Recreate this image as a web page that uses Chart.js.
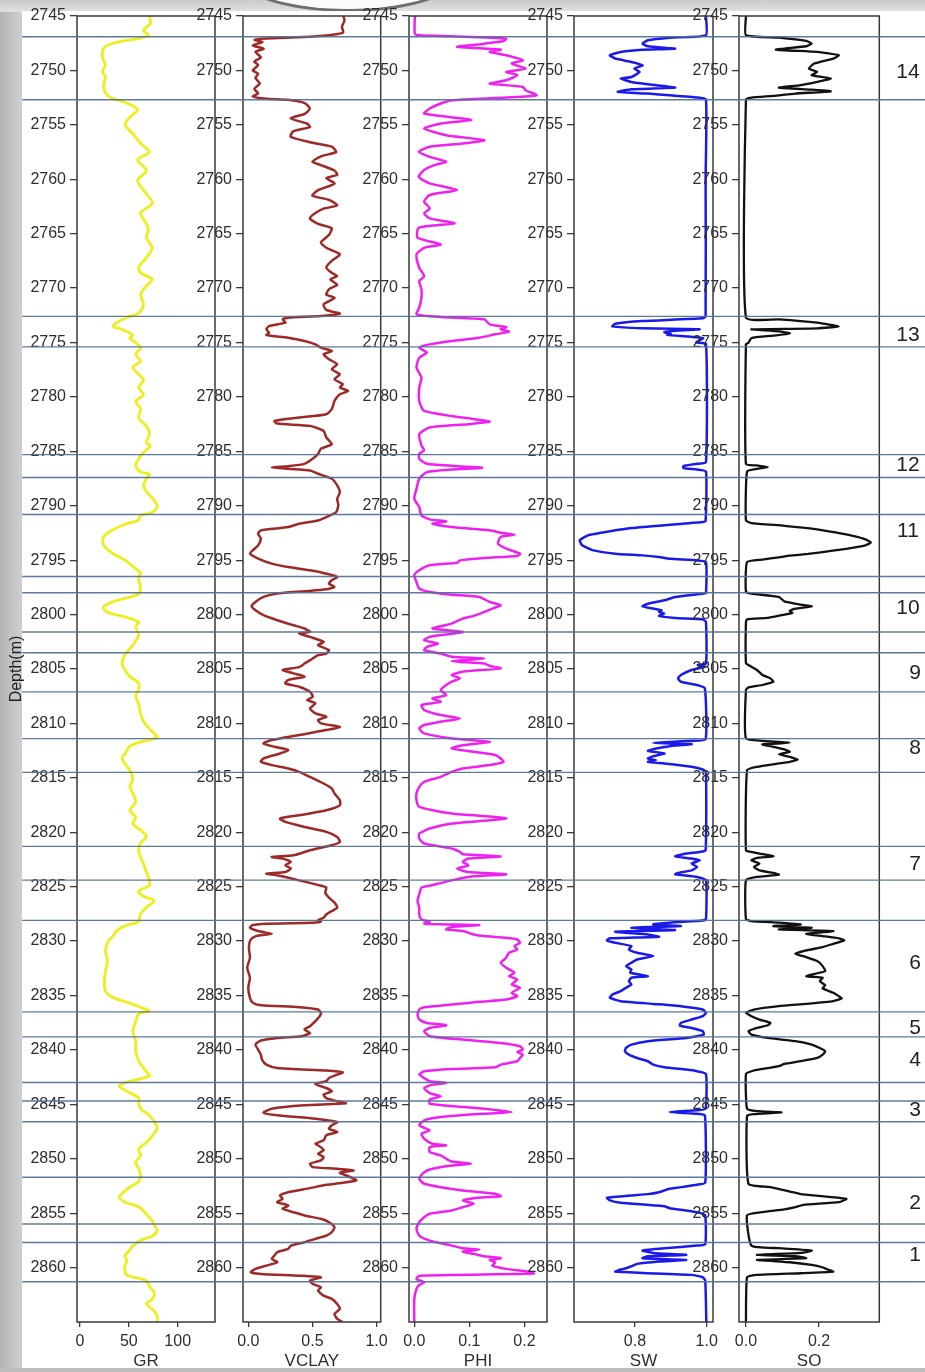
<!DOCTYPE html>
<html>
<head>
<meta charset="utf-8">
<title>Well log – zones 1–14</title>
<script src="https://cdn.jsdelivr.net/npm/chart.js@4.4.1/dist/chart.umd.min.js"></script>
<style>
  html, body { margin: 0; padding: 0; }
  body {
    width: 925px; height: 1372px; position: relative; overflow: hidden;
    background: linear-gradient(to right, #b4b4b4 0px, #cfcfcf 22px, #d8d8d8 100%);
  }
  #topShade {
    position: absolute; left: 0; top: 0; width: 925px; height: 12px;
    background: linear-gradient(to bottom, #c9c9c9, #e2e2e2);
  }
  #dome {
    position: absolute; left: 226px; top: -34px; width: 244px; height: 46px;
    background: #fbfbfb; border: 3px solid #6f6f6f; border-radius: 0 0 50% 50% / 0 0 100% 100%;
    box-sizing: border-box;
  }
  #sheet { position: absolute; left: 22px; top: 11px; width: 903px; height: 1357px; background: #fff; }
  #bottomBand { position: absolute; left: 0; top: 1368px; width: 925px; height: 4px; background: #bdbdbd; z-index: 20; }
  canvas { position: absolute; top: 0; z-index: 5; }
  canvas.zones { z-index: 6; }
</style>
</head>
<body>
<div id="topShade"></div>
<div id="dome"></div>
<div id="sheet"></div>
<div id="bottomBand"></div>

<script>
// ---------------------------------------------------------------
// Depth axis and zonation
// ---------------------------------------------------------------
const depthMin = 2745;
const depthMax = 2865;
const depthTicks = [2745, 2750, 2755, 2760, 2765, 2770, 2775, 2780, 2785, 2790, 2795, 2800,
                    2805, 2810, 2815, 2820, 2825, 2830, 2835, 2840, 2845, 2850, 2855, 2860];

const zoneNames = ['14', '13', '12', '11', '10', '9', '8', '7', '6', '5', '4', '3', '2', '1'];
const zoneTop   = [2746.9, 2772.6, 2785.3, 2790.8, 2798.0, 2803.5, 2811.4, 2821.3, 2828.1, 2836.5, 2838.8, 2844.7, 2851.7, 2857.7];
const zoneBase  = [2752.7, 2775.4, 2787.4, 2796.5, 2801.6, 2807.1, 2814.5, 2824.4, 2836.5, 2838.8, 2843.0, 2846.6, 2856.0, 2861.3];
const zoneLabelDepth = [2750.2, 2774.3, 2786.3, 2792.3, 2799.4, 2805.4, 2812.3, 2822.9, 2832.0, 2838.0, 2840.9, 2845.55, 2854.1, 2858.9];

// ---------------------------------------------------------------
// Curves: [depth (m), value]
// ---------------------------------------------------------------
const GR = [
  [2745.0,71],[2745.7,72],[2746.3,65],[2746.8,70],[2747.1,57],[2747.5,34],[2748.0,24],[2748.8,23],[2749.5,26],[2750.1,23],
  [2750.6,26],[2751.5,24],[2752.3,28],[2752.6,34],[2753.0,48],[2753.6,59],[2754.3,51],[2755.0,46],[2755.8,54],[2756.7,62],
  [2757.5,71],[2758.2,59],[2759.2,68],[2760.1,59],[2761.0,65],[2762.2,74],[2763.1,62],[2764.1,68],[2764.6,70],[2765.4,68],
  [2766.3,74],[2767.2,68],[2768.1,60],[2768.6,62],[2769.2,74],[2769.8,68],[2770.6,62],[2771.5,65],[2772.3,60],[2772.7,48],
  [2773.2,37],[2773.5,34],[2773.8,43],[2774.3,54],[2774.6,51],[2775.0,57],[2775.5,62],[2776.1,57],[2776.7,62],[2777.3,54],
  [2777.9,60],[2778.5,65],[2779.1,60],[2779.8,65],[2780.4,57],[2781.1,62],[2781.9,60],[2782.7,68],[2783.4,71],[2784.2,68],
  [2784.5,72],[2785.1,65],[2785.7,60],[2786.3,57],[2786.9,62],[2787.1,71],[2787.5,68],[2788.1,65],[2788.7,68],[2789.5,76],
  [2790.1,79],[2790.6,74],[2790.9,62],[2791.3,60],[2791.7,46],[2792.3,32],[2792.9,24],[2793.6,24],[2794.3,32],[2795.0,46],
  [2795.8,57],[2796.2,62],[2796.7,60],[2797.5,62],[2798.1,60],[2798.4,51],[2798.8,34],[2799.3,24],[2799.8,28],[2800.2,46],
  [2800.7,60],[2801.1,57],[2801.9,60],[2802.8,54],[2803.7,46],[2804.5,43],[2805.1,46],[2805.7,51],[2806.3,60],[2806.9,60],
  [2807.5,57],[2808.2,60],[2809.1,62],[2809.8,65],[2810.5,71],[2810.9,76],[2811.3,79],[2811.7,62],[2812.1,51],[2812.8,46],
  [2813.2,43],[2813.7,46],[2814.3,51],[2815.1,54],[2815.8,51],[2816.4,54],[2817.2,57],[2818.0,51],[2818.6,57],[2819.2,54],
  [2819.8,62],[2820.4,68],[2821.0,62],[2821.7,60],[2822.3,62],[2822.9,65],[2823.7,68],[2824.4,71],[2824.9,71],[2825.4,60],
  [2825.9,65],[2826.3,76],[2826.9,68],[2827.5,62],[2828.2,60],[2828.6,46],[2829.1,37],[2829.5,34],[2830.0,29],[2830.9,26],
  [2831.8,28],[2832.8,26],[2833.7,25],[2834.6,26],[2835.2,34],[2835.7,51],[2836.1,62],[2836.4,71],[2836.7,60],[2837.4,57],
  [2838.3,54],[2839.2,57],[2840.1,57],[2841.0,60],[2842.0,68],[2842.4,71],[2842.9,51],[2843.3,40],[2843.8,48],[2844.4,60],
  [2844.9,60],[2845.4,62],[2846.0,71],[2846.6,76],[2847.2,79],[2847.9,74],[2848.5,68],[2849.1,60],[2849.7,62],[2850.3,57],
  [2850.9,60],[2851.5,62],[2852.1,60],[2852.6,51],[2853.2,43],[2853.5,40],[2854.0,46],[2854.4,60],[2855.1,68],[2855.7,74],
  [2856.1,76],[2856.6,79],[2857.1,74],[2857.5,62],[2858.0,54],[2858.4,51],[2858.9,46],[2859.4,48],[2859.8,46],[2860.3,46],
  [2860.7,48],[2861.2,68],[2861.7,71],[2862.3,76],[2862.9,74],[2863.3,68],[2864.0,76],[2864.4,79],[2865.0,79]
];

const VCLAY = [
  [2745.0,0.74],[2745.4,0.75],[2746.0,0.73],[2746.5,0.74],[2746.7,0.67],[2746.9,0.48],[2747.1,0.10],[2747.2,0.05],[2747.4,0.11],[2747.7,0.035],
  [2748.0,0.12],[2748.3,0.056],[2748.8,0.098],[2749.2,0.047],[2749.5,0.077],[2750.0,0.035],[2750.3,0.077],[2750.7,0.056],[2751.2,0.09],[2751.7,0.047],
  [2752.1,0.077],[2752.4,0.035],[2752.6,0.14],[2752.7,0.31],[2753.0,0.44],[2753.5,0.48],[2754.0,0.44],[2754.4,0.33],[2754.9,0.46],[2755.2,0.48],
  [2755.6,0.35],[2756.1,0.33],[2756.6,0.48],[2757.0,0.65],[2757.5,0.685],[2757.9,0.566],[2758.4,0.50],[2758.7,0.566],[2759.2,0.672],[2759.6,0.693],
  [2759.9,0.608],[2760.4,0.672],[2761.0,0.545],[2761.5,0.50],[2761.9,0.63],[2762.4,0.693],[2762.7,0.587],[2763.1,0.523],[2763.6,0.48],[2764.1,0.545],
  [2764.5,0.65],[2765.1,0.63],[2765.8,0.566],[2766.3,0.608],[2766.9,0.714],[2767.5,0.65],[2768.1,0.608],[2768.6,0.65],[2768.9,0.693],[2769.2,0.64],
  [2769.7,0.693],[2770.1,0.63],[2770.6,0.608],[2770.9,0.672],[2771.5,0.587],[2772.0,0.608],[2772.35,0.714],[2772.57,0.566],[2772.72,0.31],[2772.87,0.268],
  [2773.18,0.289],[2773.49,0.162],[2773.79,0.141],[2774.1,0.162],[2774.31,0.141],[2774.56,0.31],[2774.86,0.438],[2775.17,0.523],[2775.47,0.566],[2775.78,0.651],
  [2776.09,0.587],[2776.54,0.629],[2777.0,0.693],[2777.46,0.651],[2777.92,0.714],[2778.38,0.672],[2778.84,0.736],[2779.14,0.714],[2779.45,0.778],[2779.76,0.714],
  [2780.37,0.672],[2781.13,0.651],[2781.59,0.608],[2781.9,0.396],[2782.2,0.204],[2782.45,0.226],[2782.66,0.481],[2783.12,0.587],[2783.73,0.608],[2784.34,0.651],
  [2784.77,0.566],[2785.23,0.544],[2785.69,0.502],[2786.15,0.438],[2786.36,0.311],[2786.48,0.183],[2786.61,0.311],[2786.76,0.481],[2787.06,0.544],[2787.52,0.651],
  [2788.13,0.693],[2788.75,0.714],[2789.36,0.693],[2789.97,0.702],[2790.58,0.685],[2791.04,0.608],[2791.35,0.544],[2791.65,0.396],[2791.96,0.311],[2792.26,0.098],
  [2792.57,0.077],[2793.03,0.098],[2793.64,0.077],[2794.1,0.035],[2794.4,0.013],[2794.86,0.077],[2795.32,0.183],[2795.63,0.311],[2795.93,0.481],[2796.24,0.608],
  [2796.54,0.693],[2796.85,0.651],[2797.16,0.629],[2797.46,0.672],[2797.68,0.608],[2797.86,0.438],[2798.07,0.226],[2798.38,0.119],[2798.84,0.056],[2799.24,0.026],
  [2799.6,0.056],[2800.06,0.119],[2800.52,0.226],[2800.98,0.353],[2801.28,0.438],[2801.59,0.481],[2801.74,0.396],[2802.05,0.481],[2802.51,0.587],[2802.81,0.544],
  [2803.27,0.629],[2803.58,0.608],[2803.73,0.544],[2804.04,0.502],[2804.5,0.438],[2804.83,0.396],[2805.09,0.268],[2805.4,0.353],[2805.71,0.438],[2806.01,0.311],
  [2806.32,0.289],[2806.63,0.396],[2807.09,0.481],[2807.55,0.502],[2807.85,0.459],[2808.16,0.523],[2808.62,0.481],[2809.08,0.523],[2809.39,0.608],[2809.69,0.544],
  [2810.0,0.566],[2810.31,0.714],[2810.61,0.608],[2811.07,0.396],[2811.53,0.183],[2811.84,0.119],[2812.15,0.204],[2812.45,0.311],[2812.76,0.247],[2813.22,0.119],
  [2813.53,0.098],[2813.83,0.183],[2814.14,0.311],[2814.45,0.396],[2814.91,0.481],[2815.52,0.587],[2815.98,0.651],[2816.44,0.672],[2817.06,0.714],[2817.52,0.714],
  [2817.98,0.608],[2818.44,0.396],[2818.74,0.247],[2819.05,0.289],[2819.51,0.438],[2819.97,0.608],[2820.43,0.693],[2820.89,0.714],[2821.2,0.651],[2821.66,0.481],
  [2822.12,0.353],[2822.27,0.183],[2822.42,0.268],[2822.73,0.332],[2823.04,0.289],[2823.34,0.332],[2823.65,0.289],[2823.8,0.141],[2823.96,0.226],[2824.42,0.396],
  [2824.91,0.566],[2825.09,0.608],[2825.55,0.60],[2826.01,0.629],[2826.47,0.672],[2826.93,0.693],[2827.24,0.651],[2827.55,0.608],[2827.85,0.587],[2828.1,0.544],
  [2828.22,0.566],[2828.31,0.502],[2828.4,0.141],[2828.53,0.035],[2828.77,0.013],[2829.08,0.077],[2829.33,0.183],[2829.48,0.077],[2829.69,0.035],[2830.0,0.013],
  [2830.61,0.005],[2831.53,0.013],[2832.45,-0.008],[2833.37,0.013],[2834.29,0.0],[2835.21,0.013],[2835.67,0.035],[2835.89,0.098],[2836.07,0.396],[2836.29,0.544],
  [2836.6,0.566],[2836.9,0.557],[2837.36,0.523],[2837.82,0.481],[2838.13,0.438],[2838.44,0.481],[2838.74,0.417],[2838.9,0.226],[2839.14,0.098],[2839.51,0.056],
  [2839.97,0.077],[2840.43,0.098],[2840.89,0.107],[2841.35,0.141],[2841.66,0.226],[2841.9,0.608],[2842.06,0.736],[2842.27,0.693],[2842.58,0.629],[2842.88,0.608],
  [2843.1,0.523],[2843.25,0.544],[2843.5,0.608],[2843.8,0.651],[2844.11,0.587],[2844.42,0.608],[2844.72,0.693],[2844.91,0.76],[2845.09,0.438],[2845.4,0.183],
  [2845.77,0.119],[2846.01,0.226],[2846.32,0.523],[2846.63,0.693],[2846.93,0.651],[2847.24,0.629],[2847.55,0.693],[2847.85,0.608],[2848.31,0.587],[2848.62,0.523],
  [2848.93,0.566],[2849.23,0.587],[2849.54,0.544],[2849.85,0.587],[2850.15,0.566],[2850.46,0.481],[2850.77,0.502],[2850.92,0.693],[2851.07,0.821],[2851.29,0.714],
  [2851.6,0.778],[2851.99,0.842],[2852.21,0.736],[2852.39,0.608],[2852.7,0.481],[2853.07,0.311],[2853.37,0.247],[2853.68,0.268],[2853.99,0.226],[2854.29,0.311],
  [2854.6,0.268],[2854.91,0.353],[2855.21,0.438],[2855.52,0.566],[2855.83,0.629],[2856.29,0.672],[2856.75,0.651],[2857.06,0.608],[2857.36,0.523],[2857.67,0.438],
  [2857.98,0.332],[2858.28,0.311],[2858.59,0.226],[2858.9,0.204],[2859.2,0.183],[2859.51,0.226],[2859.82,0.141],[2860.12,0.056],[2860.43,0.02],[2860.58,0.098],
  [2860.74,0.396],[2860.89,0.566],[2861.2,0.481],[2861.5,0.502],[2861.81,0.566],[2862.12,0.544],[2862.58,0.587],[2862.88,0.651],[2863.34,0.693],[2863.8,0.714],
  [2864.26,0.672],[2864.72,0.693],[2865.0,0.736]
];

const PHI = [
  [2745.0,0.001],[2746.62,0.001],[2746.77,0.01],[2746.87,0.068],[2747.08,0.167],[2747.29,0.162],[2747.54,0.127],[2747.84,0.078],[2748.09,0.157],[2748.3,0.137],
  [2748.61,0.167],[2749.07,0.197],[2749.37,0.177],[2749.83,0.202],[2750.14,0.167],[2750.44,0.187],[2750.9,0.167],[2751.21,0.137],[2751.51,0.197],[2751.82,0.202],
  [2752.28,0.222],[2752.49,0.167],[2752.74,0.068],[2753.04,0.048],[2753.5,0.028],[2753.96,0.018],[2754.42,0.088],[2754.57,0.103],[2754.88,0.048],[2755.34,0.018],
  [2755.95,0.058],[2756.41,0.127],[2756.71,0.088],[2757.02,0.028],[2757.48,0.008],[2757.94,0.028],[2758.39,0.058],[2758.7,0.036],[2759.16,0.018],[2759.77,0.008],
  [2760.38,0.028],[2760.99,0.078],[2761.45,0.028],[2762.06,0.018],[2762.68,0.028],[2763.13,0.018],[2763.59,0.028],[2764.05,0.073],[2764.46,0.008],[2765.38,0.006],
  [2766.0,0.048],[2766.3,0.018],[2766.91,0.004],[2768.13,0.009],[2768.9,0.018],[2769.36,0.009],[2770.12,0.013],[2770.89,0.013],[2771.8,0.009],[2772.42,0.004],
  [2772.66,0.048],[2772.87,0.127],[2773.33,0.137],[2773.58,0.167],[2773.79,0.157],[2774.0,0.172],[2774.25,0.147],[2774.56,0.118],[2774.86,0.068],[2775.17,0.028],
  [2775.47,0.009],[2775.93,0.023],[2776.39,0.009],[2777.31,0.004],[2778.23,0.013],[2779.14,0.009],[2780.37,0.009],[2781.28,0.018],[2781.9,0.088],[2782.26,0.137],
  [2782.51,0.098],[2782.81,0.028],[2783.43,0.009],[2784.46,0.013],[2784.92,0.018],[2785.23,0.009],[2785.69,0.009],[2786.15,0.023],[2786.39,0.088],[2786.51,0.123],
  [2786.67,0.068],[2786.91,0.023],[2787.52,0.009],[2788.44,0.004],[2789.36,0.0],[2790.12,0.009],[2790.89,0.013],[2791.25,0.028],[2791.44,0.058],[2791.65,0.033],
  [2791.96,0.068],[2792.26,0.137],[2792.48,0.157],[2792.66,0.182],[2792.87,0.157],[2793.49,0.152],[2793.94,0.167],[2794.4,0.192],[2794.62,0.187],[2794.8,0.127],
  [2795.02,0.083],[2795.23,0.078],[2795.47,0.028],[2795.93,0.009],[2796.39,0.0],[2797.0,0.004],[2797.61,0.009],[2797.92,0.028],[2798.17,0.068],[2798.38,0.118],
  [2798.84,0.137],[2799.14,0.157],[2799.45,0.142],[2799.76,0.127],[2800.12,0.108],[2800.37,0.088],[2800.83,0.068],[2801.28,0.033],[2801.59,0.088],[2801.83,0.058],
  [2802.05,0.028],[2802.35,0.018],[2802.66,0.043],[2802.97,0.023],[2803.27,0.018],[2803.58,0.048],[2803.88,0.068],[2804.04,0.127],[2804.28,0.068],[2804.5,0.127],
  [2804.71,0.137],[2804.94,0.157],[2805.25,0.088],[2805.55,0.068],[2805.86,0.083],[2806.17,0.068],[2806.47,0.058],[2806.93,0.048],[2807.39,0.058],[2807.7,0.033],
  [2808.01,0.048],[2808.31,0.013],[2808.77,0.018],[2809.23,0.048],[2809.54,0.083],[2809.85,0.048],[2810.15,0.018],[2810.46,0.009],[2810.92,0.018],[2811.38,0.068],
  [2811.69,0.137],[2812.0,0.088],[2812.3,0.068],[2812.61,0.108],[2812.91,0.147],[2813.22,0.157],[2813.53,0.162],[2813.83,0.137],[2814.14,0.088],[2814.45,0.068],
  [2814.91,0.048],[2815.37,0.018],[2815.83,0.009],[2816.44,0.004],[2817.06,0.004],[2817.67,0.009],[2818.28,0.068],[2818.59,0.147],[2818.74,0.167],[2818.9,0.137],
  [2819.2,0.068],[2819.66,0.028],[2820.12,0.009],[2820.58,0.009],[2821.04,0.018],[2821.5,0.068],[2821.81,0.083],[2822.02,0.088],[2822.21,0.157],[2822.42,0.098],
  [2822.73,0.088],[2823.04,0.098],[2823.34,0.078],[2823.65,0.098],[2823.87,0.167],[2824.05,0.108],[2824.42,0.068],[2824.91,0.028],[2825.09,0.013],[2825.71,0.009],
  [2826.32,0.006],[2826.93,0.009],[2827.55,0.009],[2828.01,0.013],[2828.22,0.028],[2828.4,0.018],[2828.53,0.118],[2828.71,0.068],[2828.93,0.058],[2829.08,0.088],
  [2829.39,0.108],[2829.54,0.127],[2829.69,0.167],[2829.85,0.187],[2830.15,0.192],[2830.46,0.182],[2830.77,0.187],[2831.07,0.172],[2831.53,0.167],[2831.99,0.157],
  [2832.45,0.167],[2832.91,0.182],[2833.22,0.172],[2833.53,0.187],[2833.99,0.177],[2834.29,0.192],[2834.75,0.177],[2835.06,0.187],[2835.37,0.167],[2835.58,0.118],
  [2835.83,0.068],[2836.07,0.018],[2836.29,0.009],[2836.75,0.006],[2837.21,0.009],[2837.52,0.023],[2837.73,0.058],[2837.98,0.028],[2838.28,0.018],[2838.74,0.028],
  [2839.05,0.088],[2839.36,0.157],[2839.66,0.192],[2839.97,0.197],[2840.18,0.187],[2840.43,0.197],[2840.74,0.192],[2841.04,0.187],[2841.35,0.157],[2841.6,0.147],
  [2841.75,0.068],[2841.96,0.018],[2842.27,0.009],[2842.58,0.018],[2842.88,0.028],[2843.04,0.058],[2843.19,0.033],[2843.5,0.018],[2843.96,0.028],[2844.26,0.048],
  [2844.57,0.028],[2844.94,0.028],[2845.4,0.127],[2845.71,0.177],[2845.86,0.127],[2846.17,0.048],[2846.47,0.018],[2846.93,0.009],[2847.39,0.028],[2847.7,0.013],
  [2848.16,0.018],[2848.62,0.033],[2848.77,0.058],[2848.93,0.028],[2849.39,0.028],[2849.69,0.048],[2850.0,0.058],[2850.25,0.068],[2850.46,0.103],[2850.61,0.068],
  [2850.92,0.033],[2851.23,0.018],[2851.84,0.009],[2852.3,0.018],[2852.61,0.048],[2852.91,0.088],[2853.22,0.147],[2853.44,0.157],[2853.62,0.108],[2853.83,0.088],
  [2854.14,0.108],[2854.45,0.088],[2854.75,0.068],[2855.06,0.028],[2855.37,0.018],[2855.83,0.009],[2856.44,0.004],[2857.06,0.009],[2857.52,0.028],[2857.98,0.068],
  [2858.22,0.088],[2858.34,0.118],[2858.53,0.088],[2858.74,0.108],[2858.96,0.127],[2859.14,0.157],[2859.29,0.137],[2859.51,0.147],[2859.82,0.142],[2860.12,0.167],
  [2860.37,0.207],[2860.55,0.217],[2860.74,0.009],[2861.04,0.004],[2861.35,0.018],[2861.6,0.009],[2861.96,0.004],[2862.88,0.0],[2865.0,0.0]
];

const SW = [
  [2745.0,0.998],[2746.77,0.998],[2746.99,0.897],[2747.23,0.836],[2747.54,0.821],[2747.78,0.836],[2748.0,0.912],[2748.09,0.821],[2748.3,0.76],[2748.61,0.73],
  [2748.91,0.745],[2749.22,0.79],[2749.53,0.821],[2749.83,0.798],[2750.14,0.813],[2750.6,0.79],[2750.75,0.76],[2751.06,0.79],[2751.36,0.859],[2751.58,0.912],
  [2751.73,0.79],[2751.97,0.752],[2752.13,0.836],[2752.28,0.897],[2752.49,0.973],[2752.68,0.998],[2760.0,0.997],[2772.6,0.997],[2772.78,0.989],[2773.03,0.821],
  [2773.27,0.745],[2773.52,0.737],[2773.7,0.821],[2773.79,0.98],[2773.9,0.92],[2774.05,0.882],[2774.2,0.9],[2774.3,0.89],[2774.45,0.95],[2774.6,0.99],
  [2775.0,0.97],[2775.15,0.998],[2786.0,0.998],[2786.15,0.973],[2786.36,0.935],[2786.54,0.935],[2786.67,0.973],[2786.85,0.998],[2791.4,0.997],[2791.5,0.99],
  [2791.74,0.897],[2792.05,0.79],[2792.35,0.73],[2792.72,0.669],[2793.18,0.646],[2793.64,0.653],[2794.1,0.684],[2794.4,0.745],[2794.56,0.821],[2794.71,0.867],
  [2794.86,0.897],[2795.02,0.973],[2795.17,0.998],[2798.0,0.998],[2798.07,0.99],[2798.38,0.912],[2798.69,0.882],[2799.0,0.836],[2799.24,0.821],[2799.45,0.851],
  [2799.6,0.874],[2799.76,0.867],[2799.91,0.882],[2800.12,0.867],[2800.31,0.912],[2800.43,0.989],[2800.67,0.998],[2804.5,0.998],[2804.63,0.975],[2804.79,0.995],
  [2805.09,0.958],[2805.55,0.928],[2805.86,0.92],[2806.17,0.928],[2806.47,0.973],[2806.78,0.995],[2811.45,0.997],[2811.6,0.958],[2811.78,0.851],[2811.9,0.958],
  [2812.09,0.897],[2812.3,0.859],[2812.52,0.836],[2812.76,0.882],[2813.01,0.851],[2813.22,0.836],[2813.37,0.859],[2813.53,0.836],[2813.68,0.882],[2813.99,0.958],
  [2814.23,0.989],[2814.45,0.998],[2821.66,0.997],[2821.81,0.981],[2821.96,0.943],[2822.21,0.912],[2822.42,0.958],[2822.58,0.981],[2822.88,0.958],[2823.19,0.973],
  [2823.5,0.958],[2823.74,0.92],[2823.87,0.912],[2824.11,0.973],[2824.42,0.998],[2828.0,0.998],[2828.1,0.989],[2828.31,0.897],[2828.47,0.851],[2828.62,0.928],
  [2828.77,0.79],[2828.99,0.912],[2829.14,0.745],[2829.39,0.836],[2829.6,0.867],[2829.75,0.73],[2829.94,0.722],[2830.15,0.745],[2830.46,0.79],[2830.77,0.783],
  [2831.07,0.806],[2831.38,0.851],[2831.69,0.806],[2831.99,0.79],[2832.3,0.775],[2832.61,0.79],[2832.91,0.787],[2833.22,0.836],[2833.37,0.79],[2833.68,0.783],
  [2833.99,0.79],[2834.29,0.775],[2834.6,0.76],[2834.91,0.737],[2835.21,0.73],[2835.52,0.76],[2835.77,0.851],[2835.98,0.928],[2836.29,0.989],[2836.6,0.998],
  [2836.9,0.989],[2837.21,0.958],[2837.52,0.928],[2837.76,0.925],[2837.98,0.958],[2838.28,0.989],[2838.59,0.992],[2838.9,0.943],[2839.2,0.836],[2839.51,0.79],
  [2839.82,0.775],[2840.12,0.772],[2840.43,0.783],[2840.74,0.806],[2841.04,0.836],[2841.35,0.851],[2841.6,0.882],[2841.81,0.943],[2841.96,0.973],[2842.21,0.998],
  [2845.4,0.997],[2845.55,0.973],[2845.71,0.897],[2845.86,0.973],[2846.01,0.995],[2852.2,0.996],[2852.39,0.973],[2852.76,0.897],[2853.07,0.867],[2853.25,0.836],
  [2853.37,0.79],[2853.59,0.722],[2853.83,0.73],[2854.05,0.76],[2854.23,0.836],[2854.36,0.882],[2854.54,0.897],[2854.75,0.943],[2854.97,0.981],[2855.21,0.996],
  [2857.85,0.996],[2857.98,0.973],[2858.22,0.882],[2858.44,0.821],[2858.65,0.851],[2858.83,0.943],[2858.96,0.836],[2859.14,0.821],[2859.29,0.943],[2859.45,0.867],
  [2859.66,0.806],[2859.88,0.79],[2860.06,0.775],[2860.18,0.76],[2860.37,0.745],[2860.49,0.821],[2860.67,0.958],[2860.89,0.989],[2861.2,0.996],[2865.0,0.999]
];

const SO = [
  [2745.0,0.0],[2746.77,0.0],[2746.99,0.09],[2747.29,0.165],[2747.54,0.18],[2747.78,0.165],[2748.09,0.082],[2748.3,0.195],[2748.61,0.254],[2748.91,0.239],
  [2749.37,0.187],[2749.83,0.172],[2750.14,0.195],[2750.44,0.18],[2750.75,0.232],[2751.06,0.195],[2751.36,0.15],[2751.58,0.09],[2751.77,0.18],[2751.92,0.232],
  [2752.13,0.135],[2752.34,0.075],[2752.49,0.015],[2752.68,0.0],[2772.72,0.0],[2772.87,0.09],[2773.18,0.195],[2773.52,0.254],[2773.7,0.195],[2773.79,0.015],
  [2773.97,0.09],[2774.16,0.12],[2774.37,0.075],[2774.59,0.015],[2775.02,0.007],[2775.17,0.0],[2786.15,0.0],[2786.3,0.03],[2786.45,0.06],[2786.61,0.03],
  [2786.85,0.003],[2791.35,0.0],[2791.59,0.015],[2791.84,0.105],[2792.14,0.19],[2792.45,0.245],[2792.75,0.29],[2793.06,0.325],[2793.37,0.342],[2793.67,0.325],
  [2793.98,0.27],[2794.28,0.205],[2794.43,0.17],[2794.59,0.12],[2794.74,0.09],[2794.95,0.045],[2795.17,0.003],[2797.9,0.0],[2798.07,0.015],[2798.38,0.09],
  [2798.78,0.105],[2799.08,0.15],[2799.24,0.18],[2799.45,0.135],[2799.66,0.12],[2799.85,0.127],[2800.06,0.097],[2800.31,0.06],[2800.43,0.003],[2800.67,0.0],
  [2804.48,0.0],[2804.63,0.007],[2805.09,0.03],[2805.55,0.045],[2805.86,0.067],[2806.17,0.075],[2806.47,0.045],[2806.69,0.007],[2806.93,0.0],[2811.38,0.0],
  [2811.6,0.045],[2811.78,0.12],[2811.93,0.045],[2812.15,0.075],[2812.39,0.105],[2812.61,0.12],[2812.83,0.09],[2813.07,0.12],[2813.31,0.142],[2813.53,0.12],
  [2813.68,0.09],[2813.99,0.03],[2814.3,0.003],[2821.66,0.0],[2821.81,0.015],[2821.96,0.037],[2822.21,0.075],[2822.36,0.03],[2822.58,0.015],[2822.88,0.037],
  [2823.19,0.022],[2823.5,0.037],[2823.74,0.075],[2823.9,0.09],[2824.11,0.03],[2824.42,0.0],[2827.98,0.0],[2828.16,0.015],[2828.31,0.09],[2828.47,0.15],
  [2828.62,0.075],[2828.77,0.18],[2828.93,0.09],[2829.08,0.239],[2829.33,0.165],[2829.54,0.21],[2829.75,0.254],[2829.94,0.269],[2830.25,0.239],[2830.55,0.21],
  [2830.86,0.165],[2831.17,0.135],[2831.47,0.165],[2831.84,0.195],[2832.3,0.21],[2832.76,0.217],[2833.22,0.165],[2833.37,0.21],[2833.68,0.202],[2834.05,0.217],
  [2834.35,0.21],[2834.75,0.239],[2835.06,0.254],[2835.27,0.262],[2835.52,0.239],[2835.77,0.165],[2835.98,0.09],[2836.29,0.022],[2836.6,0.0],[2836.9,0.015],
  [2837.21,0.037],[2837.52,0.067],[2837.73,0.06],[2837.98,0.03],[2838.28,0.007],[2838.59,0.015],[2838.9,0.06],[2839.2,0.135],[2839.51,0.18],[2839.82,0.202],
  [2840.12,0.217],[2840.43,0.21],[2840.74,0.195],[2841.04,0.15],[2841.29,0.105],[2841.5,0.09],[2841.75,0.045],[2841.96,0.015],[2842.21,0.0],[2845.4,0.003],
  [2845.63,0.03],[2845.74,0.097],[2845.9,0.022],[2846.04,0.003],[2852.3,0.007],[2852.61,0.067],[2853.01,0.12],[2853.25,0.15],[2853.44,0.209],[2853.68,0.275],
  [2853.99,0.255],[2854.23,0.157],[2854.45,0.135],[2854.66,0.105],[2854.91,0.045],[2855.21,0.003],[2857.98,0.015],[2858.22,0.09],[2858.44,0.18],[2858.65,0.15],
  [2858.83,0.03],[2858.96,0.135],[2859.14,0.165],[2859.29,0.03],[2859.51,0.12],[2859.76,0.18],[2859.97,0.209],[2860.18,0.224],[2860.37,0.239],[2860.52,0.15],
  [2860.67,0.03],[2860.89,0.003],[2865.0,0.0]
];

// x-axis tick values per track
const grTicks    = [0, 50, 100];
const vclayTicks = [0, 0.5, 1.0];
const phiTicks   = [0, 0.1, 0.2];
const swTicks    = [0.8, 1.0];
const soTicks    = [0, 0.2];

// ---------------------------------------------------------------
// Styling and layout
// ---------------------------------------------------------------
const FONT_FAMILY = "'Liberation Sans', Arial, sans-serif";
const TEXT = '#2e2e2e';
const AXIS = '#3a3a3a';
const ZONE_LINE = 'rgba(84, 114, 150, 0.95)';
const PAGE_H = 1372;
const PLOT_TOP = 16;
const X_AXIS_H = 50;
const RIGHT_ROOM = 24;   // space right of each track so edge tick labels never squeeze the plot

const tracks = [
  { name: 'GR',    data: GR,    ticks: grTicks,    color: '#eeee22', width: 2.9, min: -3.1,   max: 138.2, left: 77,  right: 215,   digits: 0, tension: 0.3 },
  { name: 'VCLAY', data: VCLAY, ticks: vclayTicks, color: '#9e2a28', width: 2.5, min: -0.041, max: 1.032, left: 243, right: 380.7, digits: 1, tension: 0.2 },
  { name: 'PHI',   data: PHI,   ticks: phiTicks,   color: '#ee22ee', width: 2.5, min: -0.0096,max: 0.241, left: 409, right: 547,   digits: 1, tension: 0.2 },
  { name: 'SW',    data: SW,    ticks: swTicks,    color: '#1b1be8', width: 2.5, min: 0.63,   max: 1.0176,left: 574, right: 713,   digits: 1, tension: 0.15 },
  { name: 'SO',    data: SO,    ticks: soTicks,    color: '#111111', width: 2.3, min: -0.019, max: 0.365, left: 739, right: 879.3, digits: 1, tension: 0.15 }
];

// Frame around each track's plotting area
const framePlugin = {
  id: 'trackFrame',
  afterDraw(chart) {
    const { ctx, chartArea: a } = chart;
    ctx.save();
    ctx.strokeStyle = AXIS;
    ctx.lineWidth = 1.5;
    ctx.strokeRect(a.left, a.top, a.right - a.left, a.bottom - a.top);
    ctx.restore();
  }
};

function makeTrack(def, i) {
  const axisW = i === 0 ? def.left : 60;
  const trackW = def.right - def.left;
  const cv = document.createElement('canvas');
  cv.width = Math.ceil(axisW + trackW + RIGHT_ROOM);
  cv.height = PAGE_H;
  cv.style.left = (def.left - axisW) + 'px';
  document.body.appendChild(cv);

  const tickFont = { family: FONT_FAMILY, size: 16 };
  new Chart(cv.getContext('2d'), {
    type: 'line',
    data: {
      datasets: [{
        data: def.data.map(([d, v]) => ({ x: v, y: d })),
        borderColor: def.color,
        borderWidth: def.width,
        pointRadius: 0,
        tension: def.tension,
        fill: false
      }]
    },
    options: {
      responsive: false,
      animation: false,
      events: [],
      indexAxis: 'y',
      layout: { padding: { left: 0, right: cv.width - axisW - trackW, top: PLOT_TOP, bottom: 0 } },
      plugins: { legend: { display: false }, tooltip: { enabled: false } },
      scales: {
        x: {
          type: 'linear', position: 'bottom', min: def.min, max: def.max,
          afterBuildTicks: s => { s.ticks = def.ticks.map(v => ({ value: v })); },
          afterFit: s => { s.height = X_AXIS_H; },
          ticks: { callback: v => Number(v).toFixed(def.digits), font: tickFont, color: TEXT, padding: 5, maxRotation: 0, autoSkip: false },
          grid: { drawOnChartArea: false, drawTicks: true, tickLength: 5, color: AXIS, lineWidth: 1.3 },
          border: { display: false },
          title: { display: true, text: def.name, font: { family: FONT_FAMILY, size: 17 }, color: TEXT, padding: { top: 0, bottom: 0 } }
        },
        y: {
          type: 'linear', position: 'left', min: depthMin, max: depthMax, reverse: true,
          afterBuildTicks: s => { s.ticks = depthTicks.map(v => ({ value: v })); },
          afterFit: s => { s.width = axisW; },
          ticks: { callback: v => String(v), font: tickFont, color: TEXT, padding: 4, autoSkip: false },
          grid: { drawOnChartArea: false, drawTicks: true, tickLength: 7, color: AXIS, lineWidth: 1.3 },
          border: { display: false },
          title: {
            display: i === 0, text: 'Depth(m)', color: '#1e1e1e',
            font: { family: FONT_FAMILY, size: 16 }, padding: { top: 7, bottom: 0 }
          }
        }
      }
    },
    plugins: [framePlugin]
  });
}

tracks.forEach(makeTrack);

// ---------------------------------------------------------------
// Zone boundaries across the whole sheet, plus zone numbers
// ---------------------------------------------------------------
const boundaries = [...new Set([...zoneTop, ...zoneBase])].sort((a, b) => a - b);

const zoneLabelPlugin = {
  id: 'zoneLabels',
  afterDraw(chart) {
    const { ctx } = chart;
    const y = chart.scales.y;
    ctx.save();
    ctx.fillStyle = '#222';
    ctx.font = "21px " + FONT_FAMILY;
    ctx.textAlign = 'center';
    ctx.textBaseline = 'middle';
    zoneNames.forEach((name, k) => {
      const cx = name.length > 1 ? 908 : 915;
      ctx.fillText(name, cx, y.getPixelForValue(zoneLabelDepth[k]));
    });
    ctx.restore();
  }
};

const zc = document.createElement('canvas');
zc.className = 'zones';
zc.width = 925;
zc.height = PAGE_H;
zc.style.left = '0px';
document.body.appendChild(zc);

new Chart(zc.getContext('2d'), {
  type: 'line',
  data: {
    datasets: boundaries.map(d => ({
      data: [{ x: 0.024, y: d }, { x: 1, y: d }],
      borderColor: ZONE_LINE,
      borderWidth: 1.4,
      pointRadius: 0
    }))
  },
  options: {
    responsive: false,
    animation: false,
    events: [],
    layout: { padding: { left: 0, right: 0, top: PLOT_TOP, bottom: X_AXIS_H } },
    plugins: { legend: { display: false }, tooltip: { enabled: false } },
    scales: {
      x: { type: 'linear', min: 0, max: 1, display: false },
      y: { type: 'linear', min: depthMin, max: depthMax, reverse: true, display: false }
    }
  },
  plugins: [zoneLabelPlugin]
});
</script>
</body>
</html>
